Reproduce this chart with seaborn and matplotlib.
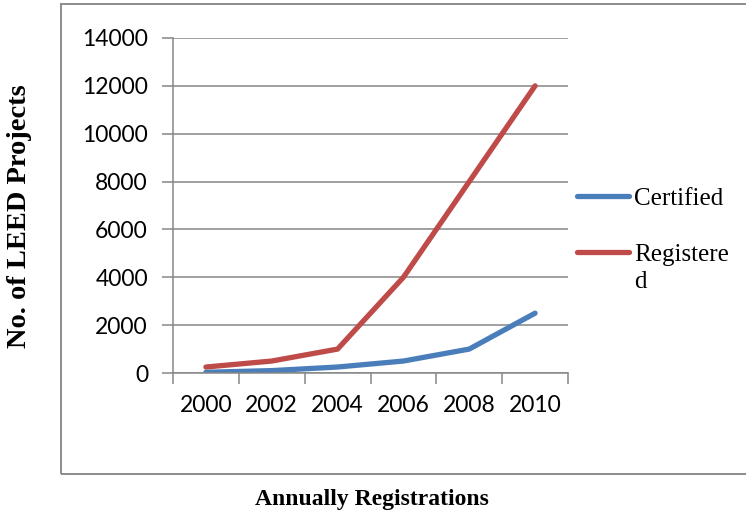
import pandas as pd
import seaborn as sns
import matplotlib.pyplot as plt
from matplotlib.patches import Rectangle
from matplotlib.lines import Line2D

years = ["2000", "2002", "2004", "2006", "2008", "2010"]
certified = [30, 100, 250, 500, 1000, 2500]
registered = [250, 500, 1000, 4000, 8000, 12000]
series_names = ["Certified", "Registered"]
legend_labels = ["Certified", "Registere\nd"]
colors = ["#4A7EBB", "#BE4B48"]
y_ticks = [0, 2000, 4000, 6000, 8000, 10000, 12000, 14000]

df = pd.DataFrame({
    "year": years * 2,
    "value": certified + registered,
    "series": [series_names[0]] * len(years) + [series_names[1]] * len(years),
})

sns.set_style("white")
plt.rcParams["font.family"] = ["Lato", "DejaVu Sans"]
plt.rcParams["text.color"] = "black"
plt.rcParams["xtick.color"] = "black"
plt.rcParams["ytick.color"] = "black"

W, H = 746, 519
fig = plt.figure(figsize=(W / 100, H / 100), dpi=100)
ax = fig.add_axes([173 / W, 1 - 373 / H, (568 - 173) / W, (373 - 38) / H])

sns.lineplot(data=df, x="year", y="value", hue="series", palette=colors,
             linewidth=3.8, ax=ax, legend=False, sort=False)
for ln in ax.lines:
    ln.set_solid_capstyle("round")

grid_c = "#868686"
ax.set_xlim(-0.5, len(years) - 0.5)
ax.set_ylim(0, 14000)
ax.set_yticks(y_ticks)
ax.set_yticklabels([str(t) for t in y_ticks], fontsize=16.5)
ax.yaxis.grid(True, color=grid_c, linewidth=1.1)
ax.set_axisbelow(True)

# category boundaries get tick marks, labels sit in the middle
ax.set_xticks([i - 0.5 for i in range(len(years) + 1)])
ax.set_xticklabels([])
ax.set_xticks(range(len(years)), minor=True)
ax.set_xticklabels(years, minor=True, fontsize=16.5)
ax.tick_params(axis="x", which="major", direction="out", length=8, width=1.1, color=grid_c, bottom=True)
ax.tick_params(axis="x", which="minor", length=0, pad=16)
ax.tick_params(axis="y", direction="out", length=8, width=1.1, color=grid_c, left=True, pad=10)

for side in ["top", "right"]:
    ax.spines[side].set_visible(False)
for side in ["left", "bottom"]:
    ax.spines[side].set_color(grid_c)
    ax.spines[side].set_linewidth(1.1)
ax.set_xlabel("")
ax.set_ylabel("")

# chart area border (cut on the right like the original)
fig.add_artist(Rectangle((60.5 / W, 1 - 474 / H), 0.95, (474 - 4) / H,
                         transform=fig.transFigure, fill=False,
                         edgecolor="#8c8c8c", linewidth=1.4))

# legend
serif = "Liberation Serif"
for i, (lab, c) in enumerate(zip(legend_labels, colors)):
    yy = [196, 252][i]
    fig.add_artist(Line2D([577 / W, 629 / W], [1 - yy / H] * 2, color=c,
                          linewidth=3.8, solid_capstyle="round"))
    fig.text(634 / W, 1 - (yy - 8) / H, lab, fontsize=18, family=serif,
             va="top", ha="left", linespacing=1.3)

fig.text(20 / W, 1 - 216 / H, "No. of LEED Projects", rotation=90, fontsize=20.5,
         fontweight="bold", family=serif, ha="center", va="center")
fig.text(372 / W, 1 - 500 / H, "Annually Registrations", fontsize=17,
         fontweight="bold", family=serif, ha="center", va="center")

fig.savefig("out.png", dpi=100)
